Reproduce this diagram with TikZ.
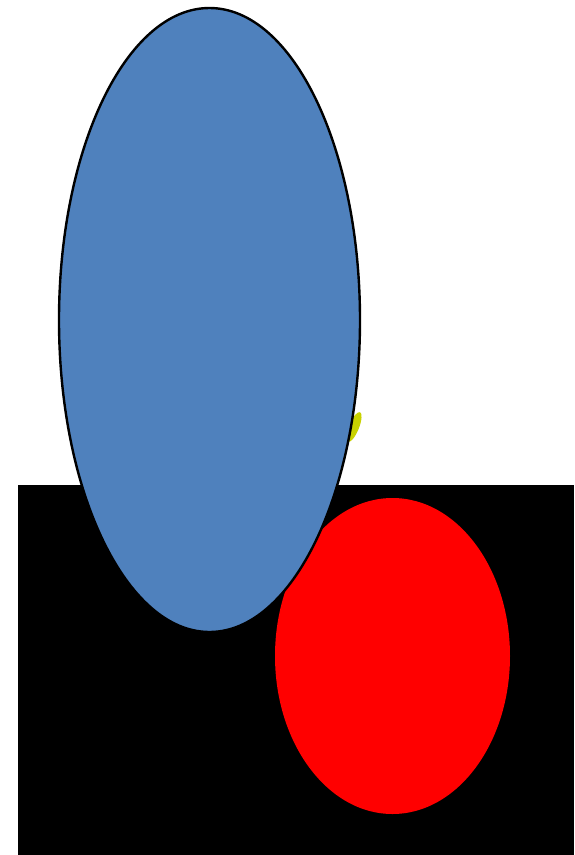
\documentclass[tikz,border=0pt]{standalone}
\usepackage{tikz}
\usetikzlibrary{shapes.geometric}

\definecolor{officeblue}{HTML}{4F81BD}
\definecolor{leafyellow}{HTML}{C9D200}

\tikzset{
  blob/.style={ellipse, inner sep=0pt, outer sep=0pt},
}

\begin{document}
\begin{tikzpicture}[x=1pt, y=-1pt]
  \useasboundingbox (0,0) rectangle (574,855);
  \fill[white] (0,0) rectangle (574,855);

  % black ground
  \fill[black] (18,485) rectangle (574,855);

  % small yellow leaf behind the blue shape
  \node[blob, fill=leafyellow, minimum width=10pt, minimum height=32pt, rotate=-22] (leaf) at (354,427) {};

  \node[blob, fill=red, minimum width=235pt, minimum height=316pt] (redegg) at (392.5,656) {};
  \node[blob, fill=officeblue, draw=black, line width=2.4pt, minimum width=301pt, minimum height=624pt] (blueegg) at (209.5,320) {};
\end{tikzpicture}
\end{document}
